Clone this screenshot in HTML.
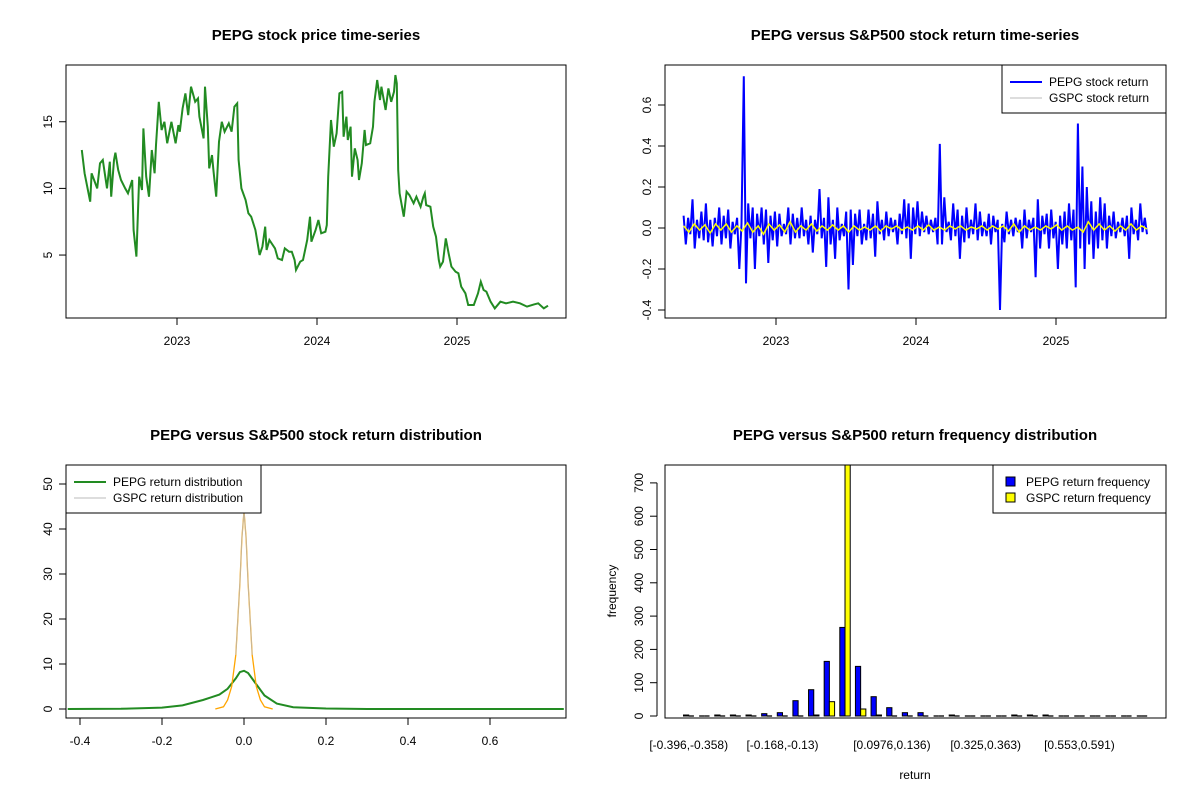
<!DOCTYPE html>
<html><head><meta charset="utf-8"><style>
body{margin:0;background:#fff}
svg{display:block;font-family:"Liberation Sans",Arial,sans-serif}
.t{font-weight:bold;font-size:15px;text-anchor:middle}
.k{font-size:12px}
</style></head><body>
<svg id="s" width="1200" height="800" viewBox="0 0 1200 800">
<rect width="1200" height="800" fill="#fff"/>
<text class="t" x="316" y="40">PEPG stock price time-series</text>
<text class="t" x="915" y="40">PEPG versus S&amp;P500 stock return time-series</text>
<text class="t" x="316" y="440">PEPG versus S&amp;P500 stock return distribution</text>
<text class="t" x="915" y="440">PEPG versus S&amp;P500 return frequency distribution</text>
<g id="p1"></g>
<g id="p2"></g>
<g id="p3"></g>
<g id="p4"></g>
</svg>
<script>
const priceDates=[2022.32,2022.34,2022.38,2022.39,2022.43,2022.45,2022.47,2022.50,2022.52,2022.53,2022.55,2022.56,2022.58,2022.60,2022.63,2022.65,2022.68,2022.69,2022.71,2022.73,2022.75,2022.76,2022.78,2022.80,2022.82,2022.84,2022.85,2022.87,2022.89,2022.91,2022.93,2022.96,2022.99,2023.01,2023.02,2023.04,2023.06,2023.08,2023.10,2023.13,2023.15,2023.16,2023.19,2023.20,2023.22,2023.23,2023.25,2023.26,2023.28,2023.30,2023.32,2023.34,2023.37,2023.39,2023.41,2023.43,2023.44,2023.46,2023.49,2023.51,2023.53,2023.56,2023.58,2023.59,2023.61,2023.63,2023.64,2023.66,2023.70,2023.72,2023.75,2023.77,2023.80,2023.82,2023.84,2023.85,2023.88,2023.90,2023.93,2023.95,2023.96,2023.99,2024.01,2024.03,2024.06,2024.07,2024.08,2024.10,2024.12,2024.14,2024.16,2024.18,2024.19,2024.21,2024.22,2024.24,2024.25,2024.27,2024.29,2024.30,2024.32,2024.34,2024.35,2024.38,2024.40,2024.41,2024.43,2024.45,2024.46,2024.49,2024.51,2024.53,2024.55,2024.56,2024.57,2024.58,2024.59,2024.62,2024.64,2024.66,2024.69,2024.71,2024.74,2024.76,2024.77,2024.78,2024.81,2024.83,2024.85,2024.87,2024.88,2024.90,2024.92,2024.94,2024.96,2024.99,2025.01,2025.03,2025.06,2025.08,2025.12,2025.15,2025.17,2025.19,2025.21,2025.24,2025.27,2025.31,2025.35,2025.40,2025.45,2025.50,2025.55,2025.58,2025.62,2025.65];
const priceValues=[12.88,11.13,9.0,11.13,10.0,11.88,12.13,10.0,12.0,9.38,12.13,12.68,11.38,10.63,10.0,9.63,10.63,6.88,4.88,10.88,9.88,14.5,10.88,9.38,12.88,11.13,13.25,16.5,14.38,15.0,13.38,15.0,13.38,14.75,14.25,16.0,17.13,15.5,17.63,16.5,16.75,15.38,13.75,17.63,14.63,11.5,12.5,11.38,9.38,13.5,15.0,14.25,14.88,14.25,16.13,16.38,12.13,10.0,9.13,8.13,7.88,6.88,5.63,5.0,5.63,7.13,5.38,6.13,5.5,4.75,4.63,5.5,5.25,5.25,4.63,3.88,4.5,4.63,6.13,7.88,6.0,6.88,7.63,6.63,6.75,7.25,10.88,15.13,13.13,14.13,17.13,17.25,13.88,15.38,13.63,14.63,10.88,13.0,12.13,10.63,11.88,14.38,13.25,13.38,14.63,16.5,18.13,16.63,17.63,15.88,17.5,16.5,17.25,18.5,17.88,11.38,9.63,7.88,9.75,9.5,8.88,9.38,8.63,9.38,9.63,8.75,8.63,7.13,6.38,4.63,4.13,4.5,6.25,5.13,4.13,3.75,3.63,2.63,2.13,1.25,1.25,2.13,3.0,2.38,2.25,1.5,1.0,1.5,1.38,1.5,1.38,1.13,1.3,1.38,1.0,1.2];
const priceYTicks=[5,10,15];
const yearTicks=[2023,2024,2025];
const pepgReturns=[0.06,-0.08,0.05,-0.03,0.14,-0.1,0.04,-0.05,0.08,-0.06,0.12,-0.07,0.04,-0.09,0.05,-0.04,0.1,-0.08,0.06,-0.05,0.09,-0.1,0.03,-0.03,0.05,-0.2,0.02,0.74,-0.27,0.12,-0.05,0.1,-0.2,0.07,-0.04,0.1,-0.08,0.09,-0.17,0.06,-0.06,0.08,-0.09,0.07,-0.04,0.02,-0.03,0.1,-0.08,0.07,-0.05,0.05,-0.05,0.1,-0.04,0.04,-0.08,0.06,-0.12,0.04,-0.03,0.19,-0.05,0.05,-0.19,0.15,-0.08,0.04,-0.15,0.1,-0.06,0.02,-0.04,0.08,-0.3,0.09,-0.18,0.07,-0.04,0.09,-0.08,0.02,-0.06,0.09,-0.05,0.07,-0.14,0.13,-0.03,0.04,-0.06,0.08,-0.04,0.05,-0.02,0.04,-0.08,0.07,-0.03,0.14,-0.05,0.12,-0.15,0.1,-0.03,0.13,-0.04,0.08,-0.02,0.06,-0.03,0.04,-0.02,0.05,-0.08,0.41,-0.08,0.15,-0.02,0.03,-0.06,0.12,-0.04,0.09,-0.15,0.06,-0.07,0.1,-0.05,0.04,-0.03,0.12,-0.06,0.08,-0.04,0.03,-0.04,0.07,-0.08,0.06,-0.02,0.04,-0.4,0.02,-0.07,0.08,-0.03,0.04,-0.04,0.05,-0.02,0.04,-0.1,0.09,-0.05,0.04,-0.02,0.05,-0.24,0.14,-0.1,0.06,-0.03,0.07,-0.1,0.09,-0.05,0.03,-0.2,0.06,-0.08,0.08,-0.1,0.12,-0.06,0.09,-0.29,0.51,-0.1,0.3,-0.2,0.2,-0.08,0.13,-0.15,0.08,-0.1,0.15,-0.06,0.12,-0.1,0.06,-0.04,0.08,-0.05,0.03,-0.02,0.05,-0.04,0.06,-0.15,0.1,-0.03,0.04,-0.06,0.12,-0.02,0.05,-0.03];
const gspcReturns=[0.01,-0.02,0.02,-0.01,0.015,-0.025,0.02,-0.01,0.02,-0.02,0.01,-0.015,0.025,-0.02,0.01,-0.03,0.02,-0.01,0.015,-0.02,0.03,-0.02,0.01,-0.01,0.02,-0.015,0.01,-0.01,0.015,-0.01,0.01,-0.02,0.01,-0.01,0.005,-0.01,0.01,-0.015,0.01,-0.005,0.01,-0.01,0.005,-0.01,0.01,-0.01,0.015,-0.01,0.005,-0.01,0.01,-0.005,0.01,-0.01,0.005,-0.005,0.01,-0.01,0.01,-0.005,0.01,-0.015,0.02,-0.02,0.01,-0.01,0.005,-0.01,0.01,-0.005,0.015,-0.01,0.01,-0.01,0.005,-0.02,0.03,-0.01,0.02,-0.01,0.01,-0.015,0.01,-0.01,0.02,-0.01,0.01,-0.005];
const retYTicks=[-0.4,-0.2,0.0,0.2,0.4,0.6];
const densX=[-0.43,-0.3,-0.2,-0.15,-0.1,-0.08,-0.06,-0.04,-0.02,-0.01,0.0,0.01,0.03,0.05,0.08,0.12,0.2,0.3,0.78];
const pepgDensity=[0,0.05,0.3,0.8,2.0,2.6,3.2,4.5,6.8,8.2,8.5,8.0,5.5,3.0,1.2,0.4,0.1,0,0];
const gspcDensX=[-0.07,-0.05,-0.04,-0.03,-0.02,-0.01,-0.005,0,0.005,0.01,0.02,0.03,0.04,0.05,0.07];
const gspcDensity=[0,0.5,2,5,12,28,38,44,38,28,12,5,2,0.5,0];
const densYTicks=[0,10,20,30,40,50];
const densXTicks=[-0.4,-0.2,0.0,0.2,0.4,0.6];
const binLabels=["[-0.396,-0.358)","[-0.168,-0.13)","[0.0976,0.136)","[0.325,0.363)","[0.553,0.591)"];
const binLabelGroups=[0,6,13,19,25];
const pepgFreq=[3,0,3,3,3,7,10,46,79,164,266,149,58,25,10,10,0,3,0,0,0,3,3,3,0,0,0,0,0,0];
const gspcFreq=[0,0,0,0,0,0,0,0,3,43,770,21,3,0,0,0,0,0,0,0,0,0,0,0,0,0,0,0,0,0];
const freqYTicks=[0,100,200,300,400,500,600,700];

const NS="http://www.w3.org/2000/svg";
function mk(p,tag,a,txt){const e=document.createElementNS(NS,tag);for(const k in a)e.setAttribute(k,a[k]);if(txt!==undefined)e.textContent=txt;p.appendChild(e);return e;}
const P1=document.getElementById('p1'),P2=document.getElementById('p2'),P3=document.getElementById('p3'),P4=document.getElementById('p4');

function box(g,x0,y0,x1,y1){const r=mk(g,'rect',{x:x0,y:y0,width:x1-x0,height:y1-y0,fill:'none',stroke:'#000','stroke-width':1});

}
function yAxis(g,x,ticks,sy,fmt,name){
  const l=mk(g,'line',{x1:x,x2:x,y1:sy(ticks[0]),y2:sy(ticks[ticks.length-1]),stroke:'#000'});
  
  
  ticks.forEach(v=>{const y=sy(v);
    const t=mk(g,'line',{x1:x-7,x2:x,y1:y,y2:y,stroke:'#000'});
    
    
    const tx=mk(g,'text',{class:'k',x:x-14,y:y,'text-anchor':'middle',transform:`rotate(-90 ${x-14} ${y})`},fmt(v));
    
    });
}
function xAxis(g,y,ticks,sx,fmt,name){
  const l=mk(g,'line',{x1:sx(ticks[0]),x2:sx(ticks[ticks.length-1]),y1:y,y2:y,stroke:'#000'});
  
  
  ticks.forEach(v=>{const x=sx(v);
    const t=mk(g,'line',{x1:x,x2:x,y1:y,y2:y+7,stroke:'#000'});
    
    
    const tx=mk(g,'text',{class:'k',x:x,y:y+27,'text-anchor':'middle'},fmt(v));
    
    });
}
function path(g,xs,ys,sx,sy,attrs,name){let d='';xs.forEach((v,i)=>{d+=(i?'L':'M')+sx(v).toFixed(1)+','+sy(ys[i]).toFixed(1);});
  const p=mk(g,'path',Object.assign({d:d,fill:'none'},attrs));
  
  return p;}

// Panel 1
const sx1=d=>177+(d-2023)*140, sy1=v=>321.7-v*13.33;
path(P1,priceDates,priceValues,sx1,sy1,{stroke:'#228B22','stroke-width':2},'price-line');
box(P1,66,65,566,318);
yAxis(P1,66,priceYTicks,sy1,v=>String(v),'price-y-axis');
xAxis(P1,318,yearTicks,sx1,v=>String(v),'price-x-axis');

// Panel 2
const sy2=v=>228-v*205, sx2=d=>776+(d-2023)*140;
const t0=2022.34,t1=2025.65;
const pDates=pepgReturns.map((_,i)=>t0+(t1-t0)*i/(pepgReturns.length-1));
const gDates=gspcReturns.map((_,i)=>t0+(t1-t0)*i/(gspcReturns.length-1));
const cp=mk(P2,'clipPath',{id:'c2'});mk(cp,'rect',{x:665,y:65,width:501,height:253});
const rg=mk(P2,'g',{'clip-path':'url(#c2)'});


path(rg,pDates,pepgReturns,sx2,sy2,{stroke:'#0000FF','stroke-width':2},'pepg-return-line');
path(rg,gDates,gspcReturns,sx2,sy2,{stroke:'#FFFF00','stroke-width':1.5},'gspc-return-line');
box(P2,665,65,1166,318);
yAxis(P2,665,retYTicks,sy2,v=>v.toFixed(1),'return-y-axis');
xAxis(P2,318,yearTicks,sx2,v=>String(v),'return-x-axis');
const lg2=mk(P2,'g',{});


mk(lg2,'rect',{x:1002,y:65,width:164,height:48,fill:'#fff',stroke:'#000'});
mk(lg2,'line',{x1:1010,x2:1042,y1:82,y2:82,stroke:'#0000FF','stroke-width':2});
mk(lg2,'text',{class:'k',x:1049,y:86},'PEPG stock return');
mk(lg2,'line',{x1:1010,x2:1042,y1:98,y2:98,stroke:'#bbb','stroke-width':1});
mk(lg2,'text',{class:'k',x:1049,y:102},'GSPC stock return');

// Panel 3
const sx3=v=>244+v*410, sy3=v=>709-v*4.5;
path(P3,densX,pepgDensity,sx3,sy3,{stroke:'#228B22','stroke-width':2},'pepg-density-line');
path(P3,gspcDensX,gspcDensity,sx3,sy3,{stroke:'#FFA500','stroke-width':1.3},'gspc-density-line');
path(P3,gspcDensX.slice(4,11),gspcDensity.slice(4,11),sx3,sy3,{stroke:'#bbb','stroke-width':0.8},'gspc-density-center');
box(P3,66,465,566,718);
yAxis(P3,66,densYTicks,sy3,v=>String(v),'density-y-axis');
xAxis(P3,718,densXTicks,sx3,v=>v.toFixed(1),'density-x-axis');
const lg3=mk(P3,'g',{});


mk(lg3,'rect',{x:66,y:465,width:195,height:48,fill:'#fff',stroke:'#000'});
mk(lg3,'line',{x1:74,x2:106,y1:482,y2:482,stroke:'#228B22','stroke-width':2});
mk(lg3,'text',{class:'k',x:113,y:486},'PEPG return distribution');
mk(lg3,'line',{x1:74,x2:106,y1:498,y2:498,stroke:'#bbb','stroke-width':1});
mk(lg3,'text',{class:'k',x:113,y:502},'GSPC return distribution');

// Panel 4
const u=5.21, ux=k=>683.5+(k-1)*u, sy4=v=>716-v*0.333;
const cp4=mk(P4,'clipPath',{id:'c4'});mk(cp4,'rect',{x:665,y:465,width:501,height:253});
const bg=mk(P4,'g',{'clip-path':'url(#c4)'});
function bar(v,k,fill,name){const x=ux(k);
  if(v>0){const r=mk(bg,'rect',{x:x,y:sy4(v),width:u,height:sy4(0)-sy4(v),fill:fill,stroke:'#000','stroke-width':1});
    
    }
  else{const r=mk(bg,'line',{x1:x,x2:x+u,y1:sy4(0),y2:sy4(0),stroke:'#000','stroke-width':1.3});
    
    }}
pepgFreq.forEach((v,i)=>bar(v,1+3*i,'#0000FF','pepg-bar'));
gspcFreq.forEach((v,i)=>bar(v,2+3*i,'#FFFF00','gspc-bar'));
box(P4,665,465,1166,718);
yAxis(P4,657,freqYTicks,sy4,v=>String(v),'frequency-y-axis');
binLabels.forEach((s,j)=>{const x=ux(2+3*binLabelGroups[j]);
  const t=mk(P4,'text',{class:'k',x:x,y:749,'text-anchor':'middle'},s);
  
  });
const xl=mk(P4,'text',{class:'k',x:915,y:779,'text-anchor':'middle'},'return');


const yl=mk(P4,'text',{class:'k',x:616,y:591,'text-anchor':'middle',transform:'rotate(-90 616 591)'},'frequency');


const lg4=mk(P4,'g',{});


mk(lg4,'rect',{x:993,y:465,width:173,height:48,fill:'#fff',stroke:'#000'});
mk(lg4,'rect',{x:1006,y:477,width:9,height:9,fill:'#0000FF',stroke:'#000'});
mk(lg4,'text',{class:'k',x:1026,y:486},'PEPG return frequency');
mk(lg4,'rect',{x:1006,y:493,width:9,height:9,fill:'#FFFF00',stroke:'#000'});
mk(lg4,'text',{class:'k',x:1026,y:502},'GSPC return frequency');
</script>
</body></html>
